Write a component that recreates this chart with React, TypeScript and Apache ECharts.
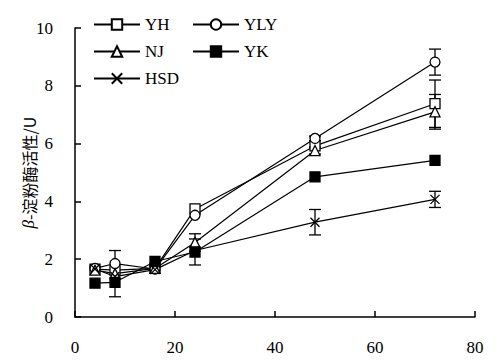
import React, { useEffect, useRef } from "react";
import * as echarts from "echarts";

const hours = [4, 8, 16, 24, 48, 72];
const seriesNames = ["YH", "YLY", "NJ", "YK", "HSD"];
const yhValues = [1.66, 1.62, 1.68, 3.74, 5.92, 7.38];
const ylyValues = [1.68, 1.85, 1.66, 3.52, 6.18, 8.82];
const njValues = [1.62, 1.5, 1.68, 2.58, 5.76, 7.1];
const ykValues = [1.17, 1.2, 1.92, 2.25, 4.85, 5.42];
const hsdValues = [1.66, 1.4, 1.64, 2.3, 3.28, 4.07];

const yhErr = [0, 0, 0, 0, 0, 0.82];
const ylyErr = [0, 0, 0, 0, 0.08, 0.45];
const njErr = [0, 0.8, 0, 0.3, 0.12, 0.6];
const ykErr = [0, 0, 0, 0.45, 0, 0];
const hsdErr = [0, 0, 0, 0, 0.44, 0.28];

const xTicks = [0, 20, 40, 60, 80];
const yTicks = [0, 2, 4, 6, 8, 10];

const FONT = "Liberation Serif, Times New Roman, serif";
const CJK_FONT = "Noto Sans CJK SC";

export default function App() {
  const ref = useRef<HTMLDivElement>(null);
  useEffect(() => {
    if (!ref.current) return;
    const chart = echarts.init(ref.current, null, { renderer: "svg" });
    const values = [yhValues, ylyValues, njValues, ykValues, hsdValues];
    const errs = [yhErr, ylyErr, njErr, ykErr, hsdErr];
    const symbols = [
      "rect",
      "circle",
      "triangle",
      "rect",
      "path://M0,0L10,10M0,10L10,0",
    ];
    const fills = ["#fff", "#fff", "#fff", "#000", "#000"];

    const errData: number[][] = [];
    values.forEach((vals, i) => {
      vals.forEach((v, j) => {
        const e = errs[i][j];
        if (e > 0) errData.push([hours[j], v - e, v + e]);
      });
    });

    const lineSeries = seriesNames.map((name, i) => ({
      name,
      type: "line",
      data: hours.map((h, j) => [h, values[i][j]]),
      symbol: symbols[i],
      symbolSize: i === 4 ? 9 : 10,
      showSymbol: true,
      z: 3,
      lineStyle: { color: "#000", width: 1.2 },
      itemStyle: {
        color: fills[i],
        borderColor: "#000",
        borderWidth: 1.3,
        opacity: 1,
      },
      emphasis: { disabled: true },
    }));

    const hw = 6;
    const errSeries = {
      type: "custom",
      name: "err",
      z: 2,
      data: errData,
      encode: { x: 0, y: [1, 2] },
      renderItem: (params: any, api: any) => {
        const x = api.value(0);
        const lo = api.value(1);
        const hi = api.value(2);
        const pHi = api.coord([x, hi]);
        const pLo = api.coord([x, lo]);
        const style = { stroke: "#000", lineWidth: 1.3 };
        return {
          type: "group",
          children: [
            { type: "line", shape: { x1: pHi[0], y1: pHi[1], x2: pLo[0], y2: pLo[1] }, style },
            { type: "line", shape: { x1: pHi[0] - hw, y1: pHi[1], x2: pHi[0] + hw, y2: pHi[1] }, style },
            { type: "line", shape: { x1: pLo[0] - hw, y1: pLo[1], x2: pLo[0] + hw, y2: pLo[1] }, style },
          ],
        };
      },
    };

    const legendCommon = {
      orient: "vertical",
      padding: 0,
      itemWidth: 46,
      itemHeight: 13,
      itemGap: 10,
      selectedMode: false,
      textStyle: { fontFamily: FONT, fontSize: 17, color: "#000", lineHeight: 17 },
    };

    chart.setOption({
      animation: false,
      backgroundColor: "#fff",
      textStyle: { fontFamily: FONT },
      legend: [
        { ...legendCommon, left: 93, top: 16, data: ["YH", "NJ", "HSD"] },
        { ...legendCommon, left: 192, top: 16, data: ["YLY", "YK"] },
      ],
      grid: { left: 75, right: 25, top: 28, bottom: 44, containLabel: false, outerBoundsMode: "none" },
      xAxis: {
        type: "value",
        min: xTicks[0],
        max: xTicks[xTicks.length - 1],
        interval: 20,
        axisLine: { lineStyle: { color: "#000", width: 1.5 } },
        axisTick: { inside: true, length: 6, lineStyle: { color: "#000", width: 1.5 } },
        axisLabel: { margin: 22, fontSize: 17, color: "#000", fontFamily: FONT },
        splitLine: { show: false },
      },
      yAxis: {
        type: "value",
        min: yTicks[0],
        max: yTicks[yTicks.length - 1],
        interval: 2,
        name: "{b|β}{c|-淀粉酶活性/U}",
        nameLocation: "middle",
        nameGap: 38,
        nameMoveOverlap: false,
        nameTextStyle: {
          fontSize: 17,
          color: "#000",
          fontFamily: CJK_FONT,
          rich: {
            b: { fontStyle: "italic", fontSize: 17, color: "#000", fontFamily: FONT },
            c: { fontSize: 16, color: "#000", fontFamily: CJK_FONT },
          },
        },
        axisLine: { show: true, lineStyle: { color: "#000", width: 1.5 } },
        axisTick: { show: true, inside: true, length: 6, lineStyle: { color: "#000", width: 1.5 } },
        axisLabel: { margin: 22, fontSize: 17, color: "#000", fontFamily: FONT },
        splitLine: { show: false },
      },
      series: [errSeries, ...lineSeries],
    });
    return () => chart.dispose();
  }, []);
  return (
    <div
      ref={ref}
      style={{ position: "fixed", left: 0, top: 0, width: 500, height: 361, background: "#fff" }}
    />
  );
}
